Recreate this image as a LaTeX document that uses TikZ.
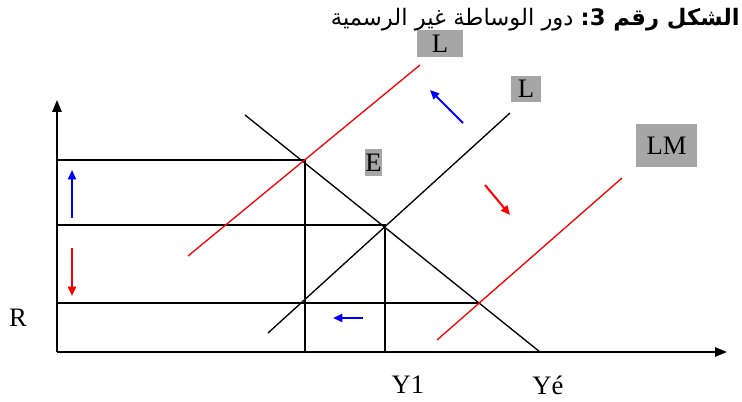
\documentclass[tikz,border=0pt]{standalone}
\usepackage{fontspec}
\setmainfont{Liberation Serif}
\newfontfamily\arabicfont[Script=Arabic]{DejaVu Sans}
\usetikzlibrary{arrows.meta}

\begin{document}
\begin{tikzpicture}[
        x=0.75pt, y=-0.75pt,
        axis/.style={line width=1.5pt, -{Triangle[length=9pt, width=7pt]}},
        guide/.style={line width=1pt},
        curve/.style={line width=1pt},
        move/.style={line width=1.5pt, -{Triangle[length=7pt, width=6pt]}},
        tag/.style={fill=black!35, inner sep=0pt, font=\fontsize{20}{20}\selectfont},
        lbl/.style={font=\fontsize{20}{20}\selectfont}
    ]
    \useasboundingbox (0,0) rectangle (742,402);

    % Title (word order as printed in the figure)
    \node[anchor=base east, inner sep=0pt, font=\arabicfont\fontsize{17}{17}\selectfont] (Title) at (740,26)
        {\mbox{الرسمية} \mbox{غير} \mbox{الوساطة} \mbox{دور} \textbf{\mbox{3:} \mbox{رقم} \mbox{الشكل}}};

    % Axes
    \coordinate (O) at (57,352);
    \coordinate (Ytop) at (57,100);
    \coordinate (Xend) at (727,352);
    \draw[axis] (O) -- (Ytop);
    \draw[axis] (O) -- (Xend);

    % Equilibrium points
    \coordinate (A) at (305,160);
    \coordinate (B) at (385,225);
    \coordinate (C) at (480,303);

    % Guide lines
    \draw[guide] (57,160) -- (A) -- (305,352);
    \draw[guide] (57,225) -- (B) -- (385,352);
    \draw[guide] (57,303) -- (C);

    % Curves
    \coordinate (IStop) at (245,115);
    \coordinate (ISend) at (540,352);
    \coordinate (LMlow) at (268,333);
    \coordinate (LMhigh) at (510,113);
    \coordinate (LLlow) at (188,256);
    \coordinate (LLhigh) at (420,65);
    \coordinate (LRlow) at (437,340);
    \coordinate (LRhigh) at (622,178);
    \draw[curve] (IStop) -- (ISend);
    \draw[curve] (LMlow) -- (LMhigh);
    \draw[curve, red] (LLlow) -- (LLhigh);
    \draw[curve, red] (LRlow) -- (LRhigh);

    % Shifts
    \draw[move, blue] (463,123) -- (430,90);
    \draw[move, red] (485,185) -- (510,215);
    \draw[move, blue] (72,218) -- (72,170);
    \draw[move, red] (72,248) -- (72,296);
    \draw[move, blue] (363,318) -- (333,318);

    % Labels
    \node[tag, minimum width=34.5pt, minimum height=20pt] (Lup) at (440,43.5) {L};
    \node[tag, minimum width=22.5pt, minimum height=19.5pt] (Lmid) at (526,89) {L};
    \node[tag, minimum width=12.75pt, minimum height=20pt] (E) at (373.5,162.5) {E};
    \node[tag, minimum width=45.75pt, minimum height=32pt] (LM) at (666.5,145.5) {LM};
    \node[lbl] (R) at (18,318) {R};
    \node[lbl] (Y1) at (408,385) {Y1};
    \node[lbl] (Ye) at (548,385) {Yé};

\end{tikzpicture}
\end{document}
